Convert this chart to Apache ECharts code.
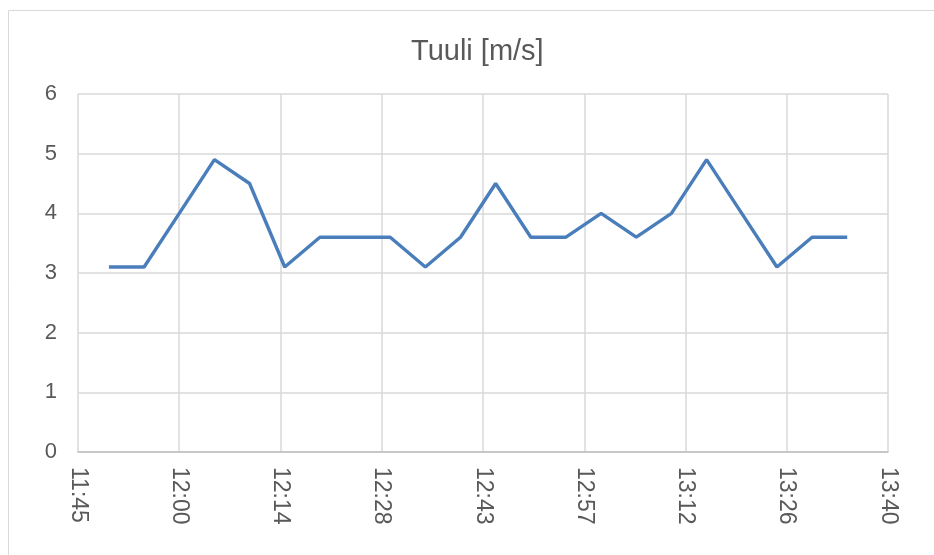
<!DOCTYPE html>
<html>
<head>
<meta charset="utf-8">
<script src="https://cdn.jsdelivr.net/npm/echarts@6/dist/echarts.min.js"></script>
<style>html,body{margin:0;padding:0;background:#fff}#c{width:934px;height:555px}</style>
</head>
<body>
<div id="c"></div>
<script>
const title = "Tuuli [m/s]";
const times = ["11:50","11:55","12:00","12:05","12:10","12:15","12:20","12:25","12:30","12:35","12:40","12:45","12:50","12:55","13:00","13:05","13:10","13:15","13:20","13:25","13:30","13:35"];
const wind = [3.1,3.1,4.0,4.9,4.5,3.1,3.6,3.6,3.6,3.1,3.6,4.5,3.6,3.6,4.0,3.6,4.0,4.9,4.0,3.1,3.6,3.6];
// x axis in minutes since midnight; Excel ticks every 0.01 day = 14.4 min
const xMin = 705.6, xMax = 820.8, xStep = 14.4;
const yMin = 0, yMax = 6, yStep = 1;

function toMin(t){const p=t.split(':');return (+p[0])*60+(+p[1]);}
function fmt(v){const m=Math.floor(v+1e-6);const h=Math.floor(m/60);const mm=m%60;return h+':'+(mm<10?'0':'')+mm;}

const chart = echarts.init(document.getElementById('c'), null, {renderer:'canvas'});
chart.setOption({
  animation:false,
  backgroundColor:'#fff',
  textStyle:{fontFamily:'Liberation Sans, Arial, sans-serif'},
  graphic:[{type:'rect',shape:{x:8.5,y:10.5,width:1000,height:1000},style:{fill:'none',stroke:'#d9d9d9',lineWidth:1},silent:true}],
  title:{text:title,left:411,top:37,padding:0,textStyle:{fontSize:29,fontWeight:'normal',color:'#595959',fontFamily:'Liberation Sans, Arial, sans-serif'}},
  grid:{left:78,right:46,top:94,bottom:103,containLabel:false},
  xAxis:{type:'value',min:xMin,max:xMax,interval:xStep,
    axisLine:{show:true,lineStyle:{color:'#bfbfbf',width:1.5}},
    axisTick:{show:false},
    splitLine:{show:true,lineStyle:{color:'#d9d9d9',width:1.5}},
    axisLabel:{rotate:-90,formatter:fmt,color:'#595959',fontSize:23,margin:15}},
  yAxis:{type:'value',min:yMin,max:yMax,interval:yStep,
    axisLine:{show:false},axisTick:{show:false},
    splitLine:{show:true,lineStyle:{color:'#d9d9d9',width:1.5}},
    axisLabel:{color:'#595959',fontSize:22,margin:21}},
  series:[{type:'line',data:times.map((t,i)=>[toMin(t),wind[i]]),showSymbol:false,
    lineStyle:{color:'#4a7ebb',width:3.4},itemStyle:{color:'#4a7ebb'}}]
});
</script>
</body>
</html>
